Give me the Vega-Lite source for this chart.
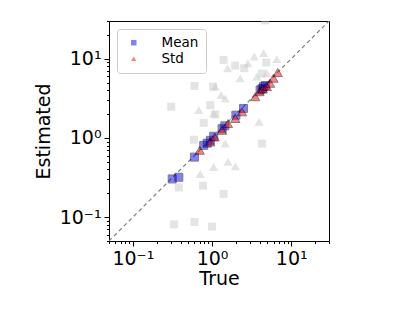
{
  "$schema": "https://vega.github.io/schema/vega-lite/v6.json",
  "width": 220,
  "height": 220,
  "autosize": "none",
  "padding": {"left": 109, "top": 21, "right": 68, "bottom": 71},
  "config": {
    "font": "DejaVu Sans",
    "view": {"stroke": "black", "strokeWidth": 1},
    "axis": {
      "domain": false,
      "grid": false,
      "tickColor": "black",
      "tickWidth": 1,
      "labelColor": "black",
      "labelFont": "DejaVu Sans",
      "labelFontSize": 19,
      "titleFont": "DejaVu Sans",
      "titleFontSize": 19,
      "titleFontWeight": "normal",
      "titleColor": "black",
      "labelPadding": 3
    },
    "legend": {
      "labelFont": "DejaVu Sans",
      "labelFontSize": 13.5,
      "labelColor": "black"
    }
  },
  "datasets": {
    "diag": [{"x": 0.05, "y": 0.05}, {"x": 30, "y": 30}],
    "pts": [
      {"x": 0.305, "y": 2.48, "kind": "bgsq"},
      {"x": 0.6, "y": 4.54, "kind": "bgsq"},
      {"x": 1.03, "y": 4.45, "kind": "bgsq"},
      {"x": 1.4, "y": 9.7, "kind": "bgsq"},
      {"x": 1.96, "y": 8.2, "kind": "bgsq"},
      {"x": 2.55, "y": 7.6, "kind": "bgsq"},
      {"x": 4.83, "y": 8.98, "kind": "bgsq"},
      {"x": 4.26, "y": 6.5, "kind": "bgsq"},
      {"x": 0.95, "y": 2.6, "kind": "bgsq"},
      {"x": 1.1, "y": 1.98, "kind": "bgsq"},
      {"x": 0.785, "y": 1.55, "kind": "bgsq"},
      {"x": 0.59, "y": 0.95, "kind": "bgsq"},
      {"x": 4.26, "y": 0.85, "kind": "bgsq"},
      {"x": 0.38, "y": 0.238, "kind": "bgsq"},
      {"x": 0.77, "y": 0.25, "kind": "bgsq"},
      {"x": 1.4, "y": 0.196, "kind": "bgsq"},
      {"x": 0.33, "y": 0.081, "kind": "bgsq"},
      {"x": 0.6, "y": 0.087, "kind": "bgsq"},
      {"x": 1.0, "y": 0.076, "kind": "bgsq"},
      {"x": 4.69, "y": 30.5, "kind": "bgsq"},
      {"x": 3.41, "y": 10.7, "kind": "bgtri"},
      {"x": 4.47, "y": 11.8, "kind": "bgtri"},
      {"x": 6.57, "y": 9.9, "kind": "bgtri"},
      {"x": 1.57, "y": 7.6, "kind": "bgtri"},
      {"x": 2.27, "y": 5.68, "kind": "bgtri"},
      {"x": 2.84, "y": 8.81, "kind": "bgtri"},
      {"x": 3.68, "y": 5.96, "kind": "bgtri"},
      {"x": 4.92, "y": 6.57, "kind": "bgtri"},
      {"x": 1.1, "y": 4.45, "kind": "bgtri"},
      {"x": 1.3, "y": 3.49, "kind": "bgtri"},
      {"x": 1.47, "y": 3.16, "kind": "bgtri"},
      {"x": 0.68, "y": 2.25, "kind": "bgtri"},
      {"x": 1.05, "y": 2.04, "kind": "bgtri"},
      {"x": 3.94, "y": 1.6, "kind": "bgtri"},
      {"x": 1.47, "y": 0.85, "kind": "bgtri"},
      {"x": 1.05, "y": 0.43, "kind": "bgtri"},
      {"x": 1.59, "y": 0.5, "kind": "bgtri"},
      {"x": 1.97, "y": 0.44, "kind": "bgtri"},
      {"x": 0.71, "y": 0.35, "kind": "bgtri"},
      {"x": 0.314, "y": 0.304, "kind": "Mean"},
      {"x": 0.381, "y": 0.319, "kind": "Mean"},
      {"x": 0.6, "y": 0.573, "kind": "Mean"},
      {"x": 0.785, "y": 0.807, "kind": "Mean"},
      {"x": 0.87, "y": 0.86, "kind": "Mean"},
      {"x": 0.953, "y": 0.934, "kind": "Mean"},
      {"x": 1.05, "y": 1.05, "kind": "Mean"},
      {"x": 1.34, "y": 1.31, "kind": "Mean"},
      {"x": 1.45, "y": 1.42, "kind": "Mean"},
      {"x": 2.0, "y": 1.94, "kind": "Mean"},
      {"x": 2.5, "y": 2.36, "kind": "Mean"},
      {"x": 4.05, "y": 4.04, "kind": "Mean"},
      {"x": 4.3, "y": 4.2, "kind": "Mean"},
      {"x": 4.47, "y": 4.45, "kind": "Mean"},
      {"x": 4.7, "y": 4.6, "kind": "Mean"},
      {"x": 0.7, "y": 0.7, "kind": "Std"},
      {"x": 0.95, "y": 0.89, "kind": "Std"},
      {"x": 1.08, "y": 1.03, "kind": "Std"},
      {"x": 1.34, "y": 1.25, "kind": "Std"},
      {"x": 1.59, "y": 1.52, "kind": "Std"},
      {"x": 1.97, "y": 1.76, "kind": "Std"},
      {"x": 2.39, "y": 2.14, "kind": "Std"},
      {"x": 3.51, "y": 3.32, "kind": "Std"},
      {"x": 3.98, "y": 3.84, "kind": "Std"},
      {"x": 4.38, "y": 4.15, "kind": "Std"},
      {"x": 4.92, "y": 4.45, "kind": "Std"},
      {"x": 5.42, "y": 4.91, "kind": "Std"},
      {"x": 5.97, "y": 5.68, "kind": "Std"},
      {"x": 6.76, "y": 6.7, "kind": "Std"}
    ]
  },
  "encoding": {
    "x": {
      "field": "x", "type": "quantitative",
      "scale": {"type": "log", "domain": [0.05, 30]},
      "axis": {
        "title": "True",
        "titlePadding": 1,
        "values": [0.05, 0.06, 0.07, 0.08, 0.09, 0.1, 0.2, 0.3, 0.4, 0.5, 0.6, 0.7, 0.8, 0.9, 1, 2, 3, 4, 5, 6, 7, 8, 9, 10, 20, 30],
        "labelExpr": "datum.value == 0.1 ? '10⁻¹' : datum.value == 1 ? '10⁰' : datum.value == 10 ? '10¹' : ''",
        "tickSize": {"condition": {"test": "datum.value == 0.1 || datum.value == 1 || datum.value == 10", "value": 5}, "value": 2.5},
        "labelFlush": false
      }
    },
    "y": {
      "field": "y", "type": "quantitative",
      "scale": {"type": "log", "domain": [0.05, 30]},
      "axis": {
        "title": "Estimated",
        "titlePadding": 6,
        "values": [0.05, 0.06, 0.07, 0.08, 0.09, 0.1, 0.2, 0.3, 0.4, 0.5, 0.6, 0.7, 0.8, 0.9, 1, 2, 3, 4, 5, 6, 7, 8, 9, 10, 20, 30],
        "labelExpr": "datum.value == 0.1 ? '10⁻¹' : datum.value == 1 ? '10⁰' : datum.value == 10 ? '10¹' : ''",
        "tickSize": {"condition": {"test": "datum.value == 0.1 || datum.value == 1 || datum.value == 10", "value": 5}, "value": 2.5},
        "labelFlush": false
      }
    }
  },
  "layer": [
    {
      "data": {"name": "diag"},
      "mark": {"type": "line", "color": "gray", "strokeWidth": 1.2, "strokeDash": [4, 3], "clip": true}
    },
    {
      "data": {"name": "pts"},
      "transform": [{"filter": "datum.kind == 'bgsq'"}],
      "mark": {"type": "point", "shape": "square", "filled": true, "color": "#c4c4c4", "opacity": 0.45, "size": 64, "clip": true}
    },
    {
      "data": {"name": "pts"},
      "transform": [{"filter": "datum.kind == 'bgtri'"}],
      "mark": {"type": "point", "shape": "triangle-up", "filled": true, "color": "#c4c4c4", "opacity": 0.45, "size": 85, "clip": true}
    },
    {
      "data": {"name": "pts"},
      "transform": [{"filter": "datum.kind == 'Mean'"}],
      "mark": {"type": "point", "filled": true, "opacity": 0.5, "size": 64, "stroke": "black", "strokeWidth": 1, "clip": true},
      "encoding": {
        "color": {
          "field": "kind", "type": "nominal",
          "scale": {"domain": ["Mean", "Std"], "range": ["blue", "red"]},
          "legend": {
            "title": null,
            "orient": "none",
            "legendX": 8,
            "legendY": 8,
            "padding": 7,
            "strokeColor": "#cccccc",
            "fillColor": "white",
            "cornerRadius": 3,
            "symbolSize": 30,
            "symbolStrokeWidth": 0,
            "symbolOpacity": 0.5,
            "symbolOffset": 3,
            "labelOffset": 21,
            "rowPadding": 1
          }
        },
        "shape": {
          "field": "kind", "type": "nominal",
          "scale": {"domain": ["Mean", "Std"], "range": ["square", "triangle-up"]},
          "legend": null
        }
      }
    },
    {
      "data": {"name": "pts"},
      "transform": [{"filter": "datum.kind == 'Std'"}],
      "mark": {"type": "point", "filled": true, "opacity": 0.5, "size": 85, "stroke": "black", "strokeWidth": 1, "clip": true},
      "encoding": {
        "color": {"field": "kind", "type": "nominal"},
        "shape": {"field": "kind", "type": "nominal"}
      }
    }
  ]
}
